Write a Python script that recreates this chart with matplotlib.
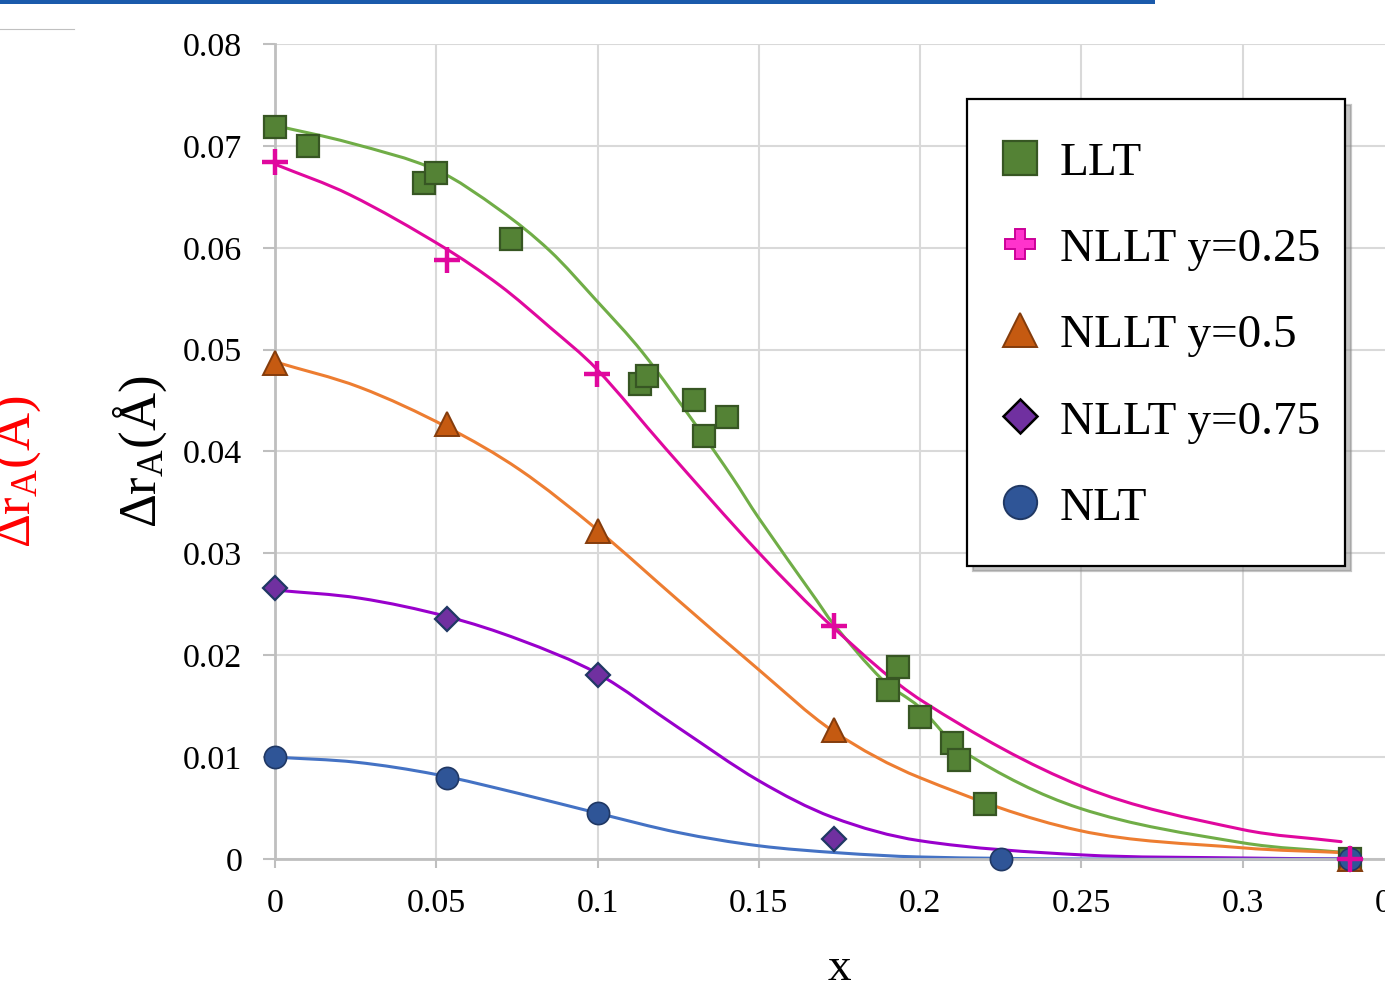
import numpy as np
import matplotlib
matplotlib.use("Agg")
import matplotlib.pyplot as plt
from matplotlib.lines import Line2D
from matplotlib.patches import Rectangle, PathPatch
from matplotlib.path import Path
from matplotlib.legend_handler import HandlerLine2D

plt.rcParams['font.family'] = ['Liberation Serif', 'DejaVu Serif']
plt.rcParams['mathtext.fontset'] = 'custom'
plt.rcParams['mathtext.rm'] = 'Liberation Serif'
plt.rcParams['mathtext.it'] = 'Liberation Serif:italic'

# ---------------- data ----------------
llt_x = [0.0, 0.0102, 0.0462, 0.050, 0.0731, 0.113, 0.1152, 0.130, 0.133, 0.140,
         0.190, 0.193, 0.200, 0.210, 0.2122, 0.220, 0.3333]
llt_y = [0.0719, 0.0700, 0.0664, 0.0673, 0.0609, 0.0466, 0.0474, 0.0451, 0.0415, 0.0434,
         0.0166, 0.0188, 0.0139, 0.0114, 0.0097, 0.0054, 0.0]

n25_x = [0.0, 0.0533, 0.0998, 0.1732, 0.3333]
n25_y = [0.0684, 0.0588, 0.0476, 0.0229, 0.0]

n50_x = [0.0, 0.0533, 0.1, 0.1732, 0.3333]
n50_y = [0.0487, 0.0427, 0.0322, 0.0127, 0.0]

n75_x = [0.0, 0.0533, 0.1, 0.1732, 0.3333]
n75_y = [0.0266, 0.0236, 0.0181, 0.0020, 0.0]

nlt_x = [0.0, 0.0533, 0.1, 0.225, 0.3333]
nlt_y = [0.0100, 0.0080, 0.0045, 0.0, 0.0]

# fitted curves
fit_llt_x = [0.0, 0.0232, 0.0502, 0.0697, 0.0852, 0.0997, 0.1140, 0.1316, 0.1419,
             0.1499, 0.1679, 0.1728, 0.1883, 0.1998, 0.2131, 0.2493, 0.2998, 0.3330]
fit_llt_y = [0.0720, 0.0703, 0.0676, 0.0637, 0.0597, 0.0548, 0.0497, 0.0421, 0.0374,
             0.0335, 0.0254, 0.0232, 0.0176, 0.0149, 0.0106, 0.0050, 0.0016, 0.0006]

fit_n25_x = [0.0, 0.0232, 0.0520, 0.0697, 0.0852, 0.0997, 0.1208, 0.1499, 0.1728,
             0.2007, 0.2503, 0.2998, 0.3305]
fit_n25_y = [0.0682, 0.0652, 0.0601, 0.0563, 0.0522, 0.0481, 0.0404, 0.0301, 0.0228,
             0.0155, 0.0071, 0.0029, 0.0017]

fit_n50_x = [0.0, 0.0263, 0.0533, 0.0759, 0.1000, 0.125, 0.1499, 0.1728,
             0.1998, 0.2493, 0.2998, 0.3330]
fit_n50_y = [0.0488, 0.0463, 0.0424, 0.0382, 0.0323, 0.0254, 0.0186, 0.0126,
             0.0080, 0.0028, 0.0011, 0.0006]

fit_n75_x = [0.0, 0.0263, 0.0533, 0.0760, 0.1000, 0.125, 0.1499, 0.1728,
             0.1998, 0.2503, 0.2998, 0.3330]
fit_n75_y = [0.0264, 0.0256, 0.0238, 0.0215, 0.0182, 0.0129, 0.0077, 0.0041,
             0.0018, 0.0004, 0.0001, 0.0]

fit_nlt_x = [0.0, 0.0251, 0.0499, 0.0760, 0.1000, 0.125, 0.1499, 0.1750, 0.1998,
             0.25, 0.3330]
fit_nlt_y = [0.0100, 0.0095, 0.0083, 0.0064, 0.0045, 0.0026, 0.0013, 0.0006, 0.0002,
             0.0, 0.0]

x_ticks = [0, 0.05, 0.1, 0.15, 0.2, 0.25, 0.3, 0.35]
x_tick_labels = ['0', '0.05', '0.1', '0.15', '0.2', '0.25', '0.3', '0.35']
y_ticks = [0, 0.01, 0.02, 0.03, 0.04, 0.05, 0.06, 0.07, 0.08]
y_tick_labels = ['0', '0.01', '0.02', '0.03', '0.04', '0.05', '0.06', '0.07', '0.08']
legend_labels = ['LLT', 'NLLT y=0.25', 'NLLT y=0.5', 'NLLT y=0.75', 'NLT']


def smooth_curve(ax, xs, ys, color, lw):
    """Draw a smooth curve passing through the read points (cubic Hermite in x)."""
    n = len(xs)
    slopes = []
    for i in range(n):
        if i == 0:
            s = (ys[1] - ys[0]) / (xs[1] - xs[0])
        elif i == n - 1:
            s = (ys[-1] - ys[-2]) / (xs[-1] - xs[-2])
        else:
            s = (ys[i + 1] - ys[i - 1]) / (xs[i + 1] - xs[i - 1])
        slopes.append(s)
    verts = [(xs[0], ys[0])]
    codes = [Path.MOVETO]
    for i in range(n - 1):
        h = xs[i + 1] - xs[i]
        verts += [(xs[i] + h / 3, ys[i] + slopes[i] * h / 3),
                  (xs[i + 1] - h / 3, ys[i + 1] - slopes[i + 1] * h / 3),
                  (xs[i + 1], ys[i + 1])]
        codes += [Path.CURVE4] * 3
    patch = PathPatch(Path(verts, codes), facecolor='none', edgecolor=color, lw=lw,
                      zorder=2, clip_on=False, capstyle='round')
    ax.add_patch(patch)


class ShiftedHandler(HandlerLine2D):
    """Legend handler that lowers the marker a little to line up with the text."""
    def __init__(self, shift, **kw):
        super().__init__(**kw)
        self.shift = shift

    def create_artists(self, legend, orig_handle, xdescent, ydescent, width, height,
                       fontsize, trans):
        arts = super().create_artists(legend, orig_handle, xdescent, ydescent, width,
                                      height, fontsize, trans)
        for a in arts:
            a.set_ydata(np.asarray(a.get_ydata()) - self.shift)
        return arts


# ---------------- figure ----------------
W, H = 1385, 988
fig = plt.figure(figsize=(W / 100, H / 100), dpi=100)
ax = fig.add_axes([275 / W, 129 / H, 1129 / W, 815 / H])
ax.set_xlim(0, 0.35)
ax.set_ylim(0, 0.08)

grid_c = '#d9d9d9'
axis_c = '#bfbfbf'
ax.set_xticks(x_ticks)
ax.set_xticklabels(x_tick_labels)
ax.set_yticks(y_ticks)
ax.set_yticklabels(y_tick_labels)
ax.grid(True, color=grid_c, linewidth=1.5, zorder=0)
ax.set_axisbelow(True)
for s in ['top', 'right']:
    ax.spines[s].set_visible(False)
for s in ['left', 'bottom']:
    ax.spines[s].set_color(axis_c)
    ax.spines[s].set_linewidth(2.0)
ax.tick_params(axis='both', direction='out', color=axis_c, width=1.5,
               labelsize=24.5, pad=15)
ax.tick_params(axis='y', length=8.5)
ax.tick_params(axis='x', length=6.5)

lw = 2.2
smooth_curve(ax, fit_llt_x, fit_llt_y, '#70ad47', lw)
smooth_curve(ax, fit_n25_x, fit_n25_y, '#e0089e', lw)
smooth_curve(ax, fit_n50_x, fit_n50_y, '#ed7d31', lw)
smooth_curve(ax, fit_n75_x, fit_n75_y, '#9900cc', lw)
smooth_curve(ax, fit_nlt_x, fit_nlt_y, '#4472c4', lw)

# markers
ax.plot(llt_x, llt_y, ls='none', marker='s', ms=16.5, mfc='#548235', mec='#375623',
        mew=1.6, zorder=3, clip_on=False)
ax.plot(n50_x, n50_y, ls='none', marker='^', ms=17, mfc='#c55a11', mec='#843c0c',
        mew=1.4, zorder=4, clip_on=False)
ax.plot(n75_x, n75_y, ls='none', marker='D', ms=12.5, mfc='#7030a0', mec='#203864',
        mew=1.6, zorder=5, clip_on=False)
ax.plot(nlt_x, nlt_y, ls='none', marker='o', ms=16, mfc='#2f5597', mec='#203864',
        mew=1.2, zorder=6, clip_on=False)
ax.plot(n25_x, n25_y, ls='none', marker='+', ms=18.5, mec='#e0089e',
        mew=3.2, zorder=7, clip_on=False)

# axis labels
ax.set_xlabel('x', fontsize=34, labelpad=20)
ax.set_ylabel(r'$\mathrm{\Delta r}_{\mathrm{A}}\mathrm{(Å)}$', fontsize=38, labelpad=10)
fig.text(14 / W, 1 - 472 / H, r'$\mathrm{\Delta r}_{\mathrm{A}}\mathrm{(Å)}$',
         fontsize=38, color='#ff0000', rotation=90, ha='center', va='center')

# legend
handles = [
    Line2D([], [], ls='none', marker='s', ms=24.5, mfc='#548235', mec='#375623', mew=1.6),
    Line2D([], [], ls='none', marker='P', ms=22, mfc='#ff33cc', mec='#cc0099', mew=1.4),
    Line2D([], [], ls='none', marker='^', ms=24, mfc='#c55a11', mec='#843c0c', mew=1.4),
    Line2D([], [], ls='none', marker='D', ms=17.5, mfc='#7030a0', mec='#000000', mew=1.8),
    Line2D([], [], ls='none', marker='o', ms=24, mfc='#2f5597', mec='#203864', mew=1.4),
]
leg = ax.legend(handles, legend_labels, loc='upper left',
                bbox_to_anchor=(967 / W, 1 - 99 / H), bbox_transform=fig.transFigure,
                borderaxespad=0, fontsize=34, handlelength=1.2, handletextpad=0.25,
                handleheight=2.0, borderpad=0.52, labelspacing=0.28, fancybox=False,
                framealpha=1, edgecolor='black',
                handler_map={Line2D: ShiftedHandler(shift=6.0)},
                shadow={'ox': 4, 'oy': -4, 'color': '#8c8c8c', 'alpha': 0.5})
leg.get_frame().set_linewidth(1.6)
leg.set_zorder(10)

# decorations from the page around the chart
fig.add_artist(Rectangle((0, 1 - 4 / H), 1155 / W, 4 / H, transform=fig.transFigure,
                         facecolor='#1a5aab', edgecolor='none'))
fig.add_artist(Line2D([0, 74 / W], [1 - 29.5 / H, 1 - 29.5 / H], transform=fig.transFigure,
                      color='#c0c0c0', lw=0.8))

fig.savefig('out.png', dpi=100)
